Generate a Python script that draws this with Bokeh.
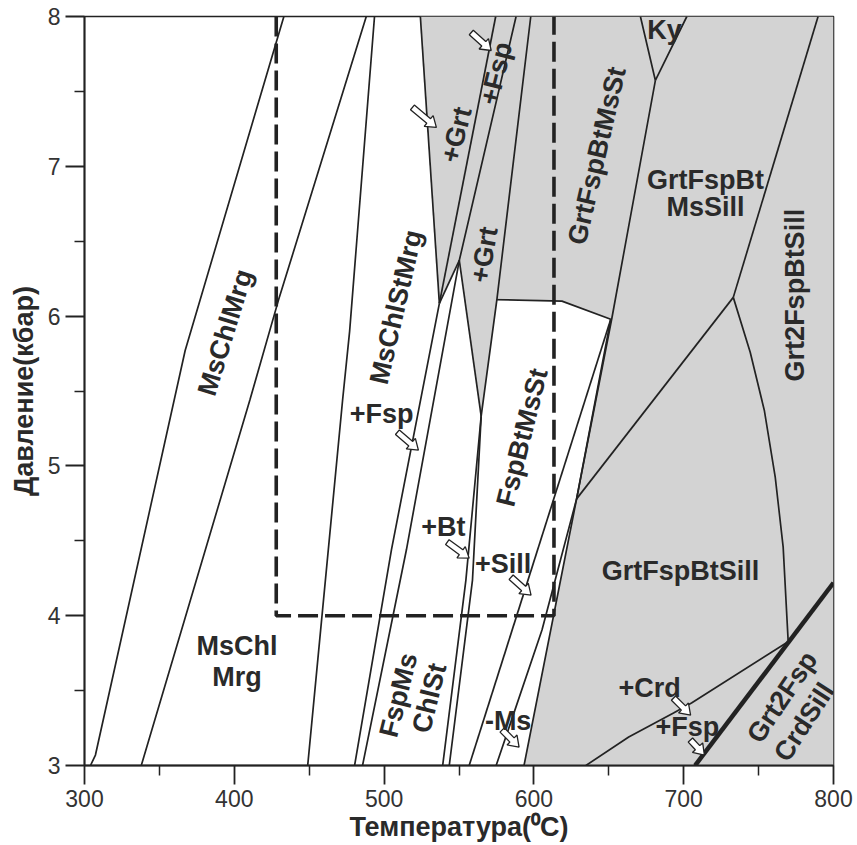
import math
from bokeh.plotting import figure
from bokeh.models import FixedTicker, Range1d
from bokeh.core.properties import value
from bokeh.embed import file_html
from bokeh.resources import INLINE

# ---------------- axes ----------------
x_ticks = [300, 400, 500, 600, 700, 800]
x_minor = [350, 450, 550, 650, 750]
y_ticks = [3, 4, 5, 6, 7, 8]
y_minor = [3.5, 4.5, 5.5, 6.5, 7.5]
x_title = "Температура(⁰C)"
y_title = "Давление(кбар)"

# ---------------- boundary lines (T, °C ; P, kbar) ----------------
lineA_T = [304.0, 307.3, 367.2, 433.1]
lineA_P = [3.0, 3.07, 5.77, 8.0]
lineB_T = [337.9, 410.4, 429.3, 488.1]
lineB_P = [3.0, 5.44, 6.10, 8.0]
lineC_T = [449.0, 472.3, 477.0, 493.6]
lineC_P = [3.0, 5.44, 5.90, 8.0]
fspD_T = [480.3, 504.9, 536.9]
fspD_P = [3.0, 4.44, 6.085]
grtL1_T = [536.9, 524.2]
grtL1_P = [6.085, 8.0]
grtL2_T = [536.9, 574.5]
grtL2_P = [6.085, 8.0]
tipJ2_T = [536.9, 550.2]
tipJ2_P = [6.085, 6.372]
fspE_T = [485.6, 514.9, 550.2, 588.1]
fspE_P = [3.0, 4.44, 6.372, 8.0]
sliverL_T = [550.2, 564.8]
sliverL_P = [6.372, 5.332]
sliverR_T = [564.8, 575.4, 597.9]
sliverR_P = [5.332, 6.119, 8.0]
bt1_T = [564.8, 554.6, 539.1]
bt1_P = [5.332, 4.238, 3.0]
bt2_T = [564.8, 559.0, 543.5]
bt2_P = [5.332, 4.238, 3.0]
whiteTop_T = [575.4, 618.7, 651.3]
whiteTop_P = [6.11, 6.10, 5.979]
shadeB_T = [651.3, 628.5, 593.4]
shadeB_P = [5.979, 4.78, 3.0]
sill_T = [556.8, 651.3]
sill_P = [3.0, 5.979]
ms_T = [574.8, 605.4, 628.5]
ms_P = [3.0, 3.904, 4.78]
kyLine_T = [681.1, 652.2, 628.5]
kyLine_P = [7.573, 5.994, 4.78]
kyTri_T = [671.1, 681.1, 702.1]
kyTri_P = [8.0, 7.573, 8.0]
diag_T = [733.1, 628.5]
diag_P = [6.125, 4.78]
right_T = [789.7, 733.1]
right_P = [8.0, 6.125]
curve_T = [733.1, 744.4, 753.8, 761.1, 766.4, 769.7]
curve_P = [6.125, 5.759, 5.372, 4.925, 4.458, 3.837]
crd_T = [634.7, 663.3, 693.2, 705.2, 769.7]
crd_P = [3.0, 3.19, 3.35, 3.417, 3.826]
thick_T = [707.6, 800.0]
thick_P = [3.0, 4.22]

# dashed box (studied P-T window)
box_T = [428.0, 428.0, 613.4, 613.4]
box_P = [8.0, 4.0, 4.0, 8.0]

# ---------------- labels ----------------
lab_text = ["MsChlMrg", "MsChlStMrg", "+Grt", "+Fsp", "+Grt", "GrtFspBtMsSt", "Ky",
            "GrtFspBt", "MsSill", "Grt2FspBtSill", "FspBtMsSt", "+Fsp", "+Bt", "+Sill",
            "GrtFspBtSill", "MsChl", "Mrg", "FspMs", "ChlSt", "-Ms", "+Crd", "+Fsp",
            "Grt2Fsp", "CrdSill"]
lab_T = [394.0, 508.0, 548.2, 574.8, 566.8, 642.0, 687.2,
         714.5, 714.5, 774.4, 592.1, 498.3, 539.5, 579.4,
         697.9, 401.8, 401.8, 509.6, 530.2, 582.8, 677.2, 702.5,
         765.7, 780.4]
lab_P = [5.89, 6.06, 7.21, 7.62, 6.41, 7.07, 7.91,
         6.91, 6.73, 6.14, 5.19, 5.345, 4.59, 4.344,
         4.298, 3.80, 3.59, 3.47, 3.45, 3.30, 3.517, 3.257,
         3.457, 3.29]
lab_angle = [73, 77, 76, 76, 80, 77, 0,
             0, 0, 90, 76, 0, 0, 0,
             0, 0, 0, 76, 76, 0, 0, 0,
             56, 57]

# ---------------- arrows (start T,P -> end T,P) ----------------
arr_T0 = [518.9, 558.2, 508.9, 542.2, 584.8, 578.8, 693.2, 704.5]
arr_P0 = [7.393, 7.893, 5.225, 4.491, 4.257, 3.237, 3.450, 3.170]
arr_T1 = [534.9, 571.5, 522.9, 556.8, 598.1, 590.1, 704.6, 713.8]
arr_P1 = [7.260, 7.773, 5.105, 4.384, 4.137, 3.123, 3.337, 3.070]

INK = "#222222"
GRAY = "#d3d3d3"

p = figure(frame_width=749, frame_height=749, x_range=Range1d(300, 800), y_range=Range1d(3, 8),
           output_backend="svg", toolbar_location=None,
           min_border_left=84, min_border_right=24, min_border_top=16, min_border_bottom=80)
p.xgrid.visible = False
p.ygrid.visible = False
p.background_fill_color = "white"
p.border_fill_color = "white"
p.outline_line_color = INK
p.outline_line_width = 1.6

# shaded (garnet-bearing) field, assembled from boundary lines
shade_T = ([grtL1_T[1], grtL1_T[0], tipJ2_T[1], sliverL_T[1], sliverR_T[1]]
           + whiteTop_T[1:] + shadeB_T[1:] + [800.0, 800.0])
shade_P = ([grtL1_P[1], grtL1_P[0], tipJ2_P[1], sliverL_P[1], sliverR_P[1]]
           + whiteTop_P[1:] + shadeB_P[1:] + [3.0, 8.0])
p.patch(shade_T, shade_P, fill_color=GRAY, line_color=None)

thin = [(lineA_T, lineA_P), (lineB_T, lineB_P), (lineC_T, lineC_P), (fspD_T, fspD_P),
        (grtL1_T, grtL1_P), (grtL2_T, grtL2_P), (tipJ2_T, tipJ2_P), (fspE_T, fspE_P),
        (sliverL_T, sliverL_P), (sliverR_T, sliverR_P), (bt1_T, bt1_P), (bt2_T, bt2_P),
        (whiteTop_T, whiteTop_P), (shadeB_T, shadeB_P), (sill_T, sill_P), (ms_T, ms_P),
        (kyLine_T, kyLine_P), (kyTri_T, kyTri_P), (diag_T, diag_P), (right_T, right_P),
        (curve_T, curve_P), (crd_T, crd_P)]
for tt, pp in thin:
    p.line(tt, pp, line_color=INK, line_width=1.7)
p.line(thick_T, thick_P, line_color=INK, line_width=4.5)
p.line(box_T, box_P, line_color=INK, line_width=3.6, line_dash="20 7")

# hollow arrows built in screen proportions
SX = 749.0 / 500.0
SY = 749.0 / 5.0
def hollow_arrow(t0, p0, t1, p1, shaft=6.0, head_w=14.0, head_l=10.0):
    x0, y0, x1, y1 = t0 * SX, p0 * SY, t1 * SX, p1 * SY
    dx, dy = x1 - x0, y1 - y0
    L = math.hypot(dx, dy)
    ux, uy = dx / L, dy / L
    nx, ny = -uy, ux
    bx, by = x1 - ux * head_l, y1 - uy * head_l
    s, h = shaft / 2, head_w / 2
    pts = [(x0 + nx * s, y0 + ny * s), (bx + nx * s, by + ny * s), (bx + nx * h, by + ny * h),
           (x1, y1), (bx - nx * h, by - ny * h), (bx - nx * s, by - ny * s),
           (x0 - nx * s, y0 - ny * s)]
    return [q[0] / SX for q in pts], [q[1] / SY for q in pts]

axs, ays = [], []
for a, b, c, d in zip(arr_T0, arr_P0, arr_T1, arr_P1):
    xx, yy = hollow_arrow(a, b, c, d)
    axs.append(xx)
    ays.append(yy)
p.patches(axs, ays, fill_color="white", line_color=INK, line_width=1.3)

p.text(x=lab_T, y=lab_P, text=lab_text, angle=lab_angle, angle_units="deg",
       text_font=value("Liberation Sans"), text_font_style="bold", text_font_size="27px",
       text_align="center", text_baseline="middle", text_color="#2a2a2a")

# axes styling
for ax in (p.xaxis[0], p.yaxis[0]):
    ax.axis_line_color = INK
    ax.axis_line_width = 1.8
    ax.major_tick_line_color = INK
    ax.major_tick_line_width = 1.8
    ax.minor_tick_line_color = INK
    ax.minor_tick_line_width = 1.5
    ax.major_tick_out = 19
    ax.major_tick_in = 0
    ax.minor_tick_out = 10
    ax.minor_tick_in = 0
    ax.major_label_text_font = "Liberation Sans"
    ax.major_label_text_font_size = "23px"
    ax.major_label_text_color = "#333333"
    ax.axis_label_text_font = "Liberation Sans"
    ax.axis_label_text_font_style = "bold"
    ax.axis_label_text_font_size = "27px"
    ax.axis_label_text_color = "#2a2a2a"

p.xaxis.ticker = FixedTicker(ticks=x_ticks, minor_ticks=x_minor)
p.yaxis.ticker = FixedTicker(ticks=y_ticks, minor_ticks=y_minor)
p.xaxis.axis_label = x_title
p.yaxis.axis_label = y_title
p.xaxis.major_label_standoff = 5
p.yaxis.major_label_standoff = 5
p.xaxis.axis_label_standoff = 2
p.yaxis.axis_label_standoff = 6
p.yaxis.major_label_orientation = "horizontal"

open("out.html", "w").write(file_html(p, INLINE))
